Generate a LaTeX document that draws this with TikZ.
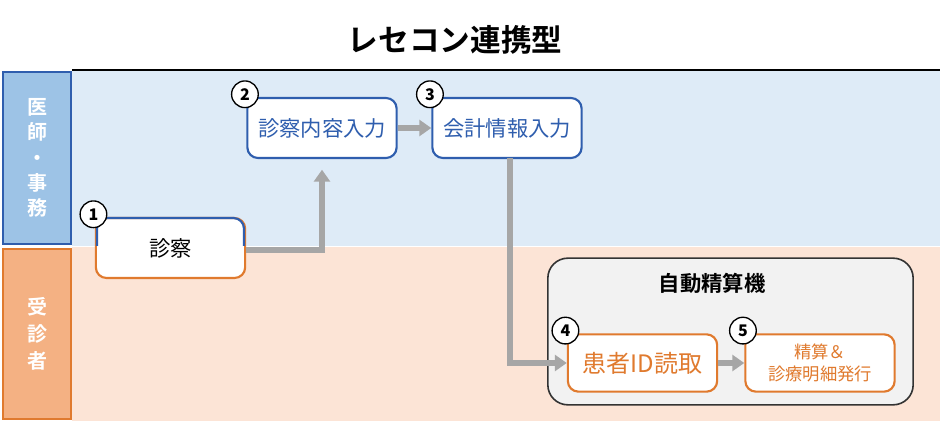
\documentclass[tikz,border=0pt]{standalone}
\usepackage{fontspec}
\setmainfont{Noto Sans CJK JP}
\newfontfamily\jpb{Noto Sans CJK JP Bold}
\usetikzlibrary{arrows.meta}
\definecolor{bluebd}{HTML}{2F5EAE}
\definecolor{orbd}{HTML}{E07A2E}
\definecolor{bluebg}{HTML}{DEEBF7}
\definecolor{orbg}{HTML}{FCE4D6}
\definecolor{bluelab}{HTML}{9DC3E6}
\definecolor{orlab}{HTML}{F4B183}
\definecolor{arr}{HTML}{A6A6A6}
\begin{document}
\begin{tikzpicture}[x=0.75pt,y=-0.75pt,
  box/.style={draw,line width=1.6pt,rounded corners=8pt,fill=white,minimum width=112pt,minimum height=45pt,inner sep=0pt,font=\fontsize{16}{19}\selectfont},
  num/.style={circle,draw=black,line width=1pt,fill=white,minimum size=20pt,inner sep=0pt,font=\bfseries\fontsize{12}{12}\selectfont},
  flow/.style={draw=arr,line width=5pt,-{Triangle[length=9pt,width=12pt]}}]
\useasboundingbox (0,0) rectangle (940,431);
\fill[bluebg] (72,71) rectangle (940,246);
\fill[orbg] (72,247) rectangle (940,421);
\draw[line width=1.5pt] (72,70) -- (940,70);
\node[font=\jpb\fontsize{23}{27}\selectfont] (title) at (455,40) {レセコン連携型};
\node[draw=bluebd,fill=bluelab,line width=1.5pt,minimum width=51pt,minimum height=129pt,inner sep=0pt,text=white,font=\jpb\fontsize{15}{19}\selectfont,align=center] (lab1) at (37,158) {医\\師\\・\\事\\務};
\node[draw=orbd,fill=orlab,line width=1.5pt,minimum width=51pt,minimum height=127pt,inner sep=0pt,text=white,font=\jpb\fontsize{15}{20}\selectfont,align=center] (lab2) at (37,334) {受\\診\\者};
% machine
\node[draw=black!80,fill=black!5,line width=1.2pt,rounded corners=15pt,minimum width=274pt,minimum height=110pt] (mach) at (730.5,331.5) {};
\node[font=\jpb\fontsize{16}{19}\selectfont] (machlbl) at (712,283) {自動精算機};
% nodes
\node[box,draw=orbd] (n1) at (170.5,248) {診察};
\draw[draw=bluebd,line width=1.6pt,rounded corners=8pt] (97,246) -- (97,218) -- (244,218) -- (244,246);
\node[box,draw=bluebd,text=bluebd] (n2) at (322,128) {診察内容入力};
\node[box,draw=bluebd,text=bluebd] (n3) at (507,128) {会計情報入力};
\node[box,draw=orbd,text=orbd,font=\fontsize{18}{20}\selectfont,minimum height=43pt] (n4) at (642.5,363) {患者ID読取};
\node[box,draw=orbd,text=orbd,align=center,font=\fontsize{13}{16}\selectfont,minimum height=43pt] (n5) at (820,363) {精算＆\\診療明細発行};
\foreach \n/\t in {n1/1,n2/2,n3/3,n4/4,n5/5}
  \node[num] (c\t) at ([xshift=-1pt,yshift=2pt]\n.north west) {\t};
% arrows
\draw[flow] (n1.east |- 0,250) -| ([yshift=-8pt]n2.south);
\draw[flow] (n2.east) -- (n3.west);
\draw[flow] (510,158) |- (n4.west);
\draw[flow] (n4.east) -- (n5.west);
\end{tikzpicture}
\end{document}
